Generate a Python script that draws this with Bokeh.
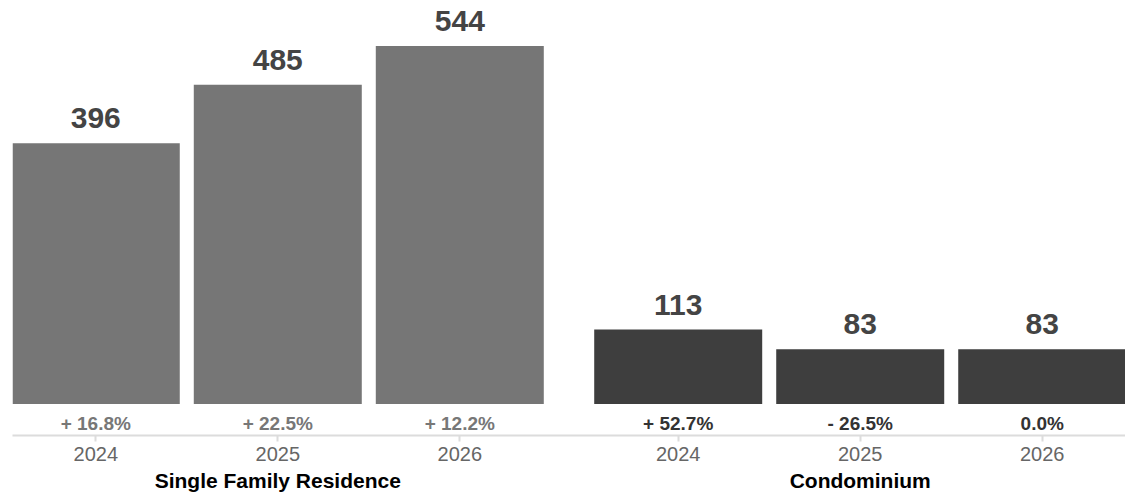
from bokeh.plotting import figure
from bokeh.models import ColumnDataSource, FactorRange, Range1d
from bokeh.transform import factor_cmap
from bokeh.core.properties import value
from bokeh.embed import file_html
from bokeh.resources import INLINE

# ---- data ----
groups = ["Single Family Residence", "Condominium"]
years = ["2024", "2025", "2026"]
sfr_values = [396, 485, 544]
condo_values = [113, 83, 83]
sfr_changes = ["+ 16.8%", "+ 22.5%", "+ 12.2%"]
condo_changes = ["+ 52.7%", "- 26.5%", "0.0%"]

factors = [(g, y) for g in groups for y in years]
vals = sfr_values + condo_values
changes = sfr_changes + condo_changes
grp = [g for g in groups for _ in years]

source = ColumnDataSource(dict(
    x=factors,
    v=vals,
    vlabel=[str(v) for v in vals],
    change=changes,
    grp=grp,
))

FONT = "Liberation Sans"

p = figure(
    x_range=FactorRange(*factors, group_padding=0.2, factor_padding=0.0,
                        range_padding=-0.0425, range_padding_units="absolute"),
    y_range=Range1d(-48, 613),
    width=1125, height=501,
    output_backend="svg", toolbar_location=None,
    y_axis_location=None,
    min_border_left=12, min_border_right=0,
    min_border_top=0, min_border_bottom=66,
    outline_line_color=None,
    background_fill_color="white", border_fill_color="white",
)

bar_cmap = factor_cmap("grp", palette=["#767676", "#3e3e3e"], factors=groups)
pct_cmap = factor_cmap("grp", palette=["#777777", "#333333"], factors=groups)

p.vbar(x="x", top="v", bottom=0, width=0.923, source=source,
       fill_color=bar_cmap, line_color=None)

p.text(x="x", y="v", text="vlabel", source=source,
       text_align="center", text_baseline="middle", y_offset=-25,
       text_font=value(FONT), text_font_style="bold",
       text_font_size="30px", text_color="#444444")

p.text(x="x", y=0, text="change", source=source,
       text_align="center", text_baseline="middle", y_offset=20,
       text_font=value(FONT), text_font_style="bold",
       text_font_size="19px", text_color=pct_cmap)

p.xgrid.visible = False
p.ygrid.visible = False

ax = p.xaxis[0]
ax.axis_line_color = "#dcdcdc"
ax.axis_line_width = 2
ax.major_tick_line_color = "#dcdcdc"
ax.major_tick_line_width = 2
ax.major_tick_in = 0
ax.major_tick_out = 6
ax.minor_tick_line_color = None
ax.major_label_standoff = 5
ax.major_label_text_font = FONT
ax.major_label_text_font_size = "20px"
ax.major_label_text_color = "#666666"
ax.group_text_font = FONT
ax.group_text_font_size = "21px"
ax.group_text_font_style = "bold"
ax.group_text_color = "#000000"
ax.separator_line_alpha = 0

open("out.html", "w").write(file_html(p, INLINE))
